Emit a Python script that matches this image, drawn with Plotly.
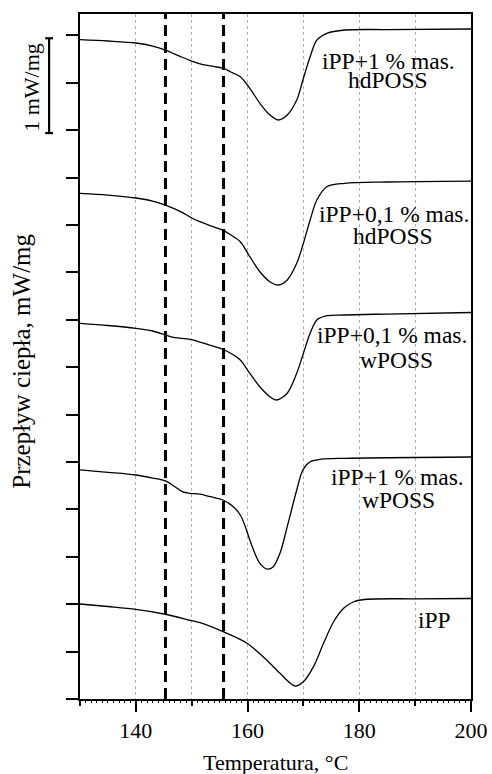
import plotly.graph_objects as go

# DSC melting curves (heat flow, mW/mg, curves shifted vertically)
T_hd1 = [130, 135, 140, 143, 145.3, 148, 150, 152, 154, 155.7, 157, 158.7, 160.4, 162.2, 164,
         165.5, 167.1, 168.8, 169.9, 171.2, 172.4, 174.2, 177.4, 185, 200]
Q_hd1 = [6.955, 6.941, 6.920, 6.888, 6.846, 6.777, 6.730, 6.693, 6.672, 6.653, 6.614, 6.564, 6.442,
         6.284, 6.160, 6.108, 6.160, 6.318, 6.530, 6.775, 6.951, 7.022, 7.057, 7.062, 7.068]

T_hd01 = [130, 135, 140, 143, 145.3, 148, 150, 151.5, 153.5, 155.6, 157, 158.7, 160.4, 162.2, 164,
          165.5, 167.1, 168.8, 169.9, 171.2, 172.4, 174.2, 177.4, 185, 200]
Q_hd01 = [5.334, 5.316, 5.285, 5.253, 5.211, 5.142, 5.074, 5.035, 4.989, 4.947, 4.895, 4.824, 4.666,
          4.507, 4.402, 4.367, 4.420, 4.596, 4.789, 5.053, 5.264, 5.404, 5.440, 5.454, 5.464]

T_w01 = [130, 135, 140, 143, 145.3, 147, 149.7, 153.2, 155.6, 157.2, 158.7, 160.4, 162.2, 164,
         165.2, 167.1, 168.8, 169.9, 171.2, 172.4, 174.2, 177.4, 185, 200]
Q_w01 = [3.963, 3.940, 3.910, 3.882, 3.840, 3.811, 3.794, 3.734, 3.687, 3.640, 3.576, 3.436, 3.294,
         3.189, 3.154, 3.225, 3.436, 3.629, 3.857, 3.998, 4.043, 4.051, 4.061, 4.077]

T_w1 = [130, 135, 140, 143, 145.3, 147, 148.4, 149.7, 151.5, 153.3, 155.6, 157.5, 158.7, 159.6,
        160.4, 161.3, 162.2, 163.5, 164.6, 165.8, 167.1, 168.8, 169.9, 171.2, 173, 177.4, 200]
Q_w1 = [2.416, 2.391, 2.363, 2.331, 2.300, 2.239, 2.184, 2.170, 2.162, 2.134, 2.099, 2.025, 1.941,
        1.818, 1.677, 1.537, 1.431, 1.371, 1.396, 1.537, 1.818, 2.205, 2.416, 2.503, 2.528, 2.539, 2.553]

T_ipp = [130, 135, 140, 145.3, 150, 151.5, 155.6, 159.9, 163.4, 165.8, 168.5, 170, 171.8, 173.6,
         175.4, 177.2, 179, 181.4, 190, 200]
Q_ipp = [1.002, 0.976, 0.946, 0.894, 0.826, 0.805, 0.710, 0.588, 0.411, 0.271, 0.137, 0.182, 0.341,
         0.588, 0.815, 0.957, 1.026, 1.052, 1.057, 1.060]

curves = [(T_hd1, Q_hd1), (T_hd01, Q_hd01), (T_w01, Q_w01), (T_w1, Q_w1), (T_ipp, Q_ipp)]

# Curve labels: (text, x, y) one entry per text line
label_lines = [
    ("iPP+1 % mas.", 185.2, 6.733), ("hdPOSS", 185.1, 6.535),
    ("iPP+0,1 % mas.", 186.3, 5.119), ("hdPOSS", 186.1, 4.884),
    ("iPP+0,1 % mas.", 185.8, 3.840), ("wPOSS", 186.6, 3.576),
    ("iPP+1 % mas.", 186.9, 2.339), ("wPOSS", 187.0, 2.099),
    ("iPP", 193.4, 0.830),
]

# Characteristic temperatures marked with dashed lines
marker_T = [145.3, 155.7]

# Scale bar: 1 mW/mg
scale_bottom = 5.97
scale_height = 1.0

x_range = [130, 200]
y_range = [0, 7.226]
y_ticks = [i * 0.5 for i in range(15)]

FONT = "Liberation Serif, Times New Roman, serif"

fig = go.Figure()
for T, Q in curves:
    fig.add_trace(go.Scatter(x=T, y=Q, mode="lines",
                             line=dict(color="black", width=1.3, shape="spline", smoothing=0.9),
                             showlegend=False, hoverinfo="skip"))

# fine minor ticks along the temperature axis
fig.add_trace(go.Scatter(x=[130, 200], y=[None, None], xaxis="x2", showlegend=False,
                         hoverinfo="skip"))

for t in marker_T:
    fig.add_shape(type="line", x0=t, x1=t, y0=0, y1=1, xref="x", yref="paper",
                  line=dict(color="black", width=3, dash="11px,6px"))

# scale bar
fig.add_shape(type="line", xref="paper", yref="y", x0=-0.079, x1=-0.079,
              y0=scale_bottom, y1=scale_bottom + scale_height,
              line=dict(color="black", width=2.2))
for yy in (scale_bottom, scale_bottom + scale_height):
    fig.add_shape(type="line", xref="paper", yref="y", x0=-0.089, x1=-0.069, y0=yy, y1=yy,
                  line=dict(color="black", width=2.2))

for text, x, y in label_lines:
    fig.add_annotation(x=x, y=y, xref="x", yref="y", text=text, showarrow=False,
                       xanchor="center", yanchor="middle",
                       font=dict(family=FONT, size=23.5, color="black"))

fig.add_annotation(x=-0.126, y=0.8934, xref="paper", yref="paper", text="1 mW/mg",
                   textangle=-90, showarrow=False, xanchor="center", yanchor="middle",
                   font=dict(family=FONT, size=22, color="black"))
fig.add_annotation(x=-0.1516, y=0.4934, xref="paper", yref="paper",
                   text="Przepływ ciepła, mW/mg", textangle=-90, showarrow=False,
                   xanchor="center", yanchor="middle",
                   font=dict(family=FONT, size=25, color="black"))
fig.add_annotation(x=0.5, y=-0.092, xref="paper", yref="paper", text="Temperatura, °C",
                   showarrow=False, xanchor="center", yanchor="middle",
                   font=dict(family=FONT, size=22, color="black"))

fig.update_layout(
    template="none",
    width=492, height=774,
    margin=dict(l=80, r=21, t=14, b=75, autoexpand=False),
    paper_bgcolor="white", plot_bgcolor="white",
    font=dict(family=FONT, size=22, color="black"),
    xaxis=dict(range=x_range, tick0=140, dtick=20, ticks="outside", ticklen=11, tickwidth=2,
               tickcolor="black", showline=True, linewidth=2, linecolor="black", mirror=True,
               showgrid=True, gridcolor="#b0b0b0", gridwidth=1, griddash="dot",
               ticklabelstandoff=0, zeroline=False, automargin=False,
               minor=dict(tick0=130, dtick=10, ticks="outside", ticklen=5, tickwidth=2,
                          tickcolor="black", showgrid=True, gridcolor="#b0b0b0",
                          gridwidth=1, griddash="dot")),
    xaxis2=dict(range=x_range, overlaying="x", anchor="y", side="bottom", dtick=1,
                ticks="outside", ticklen=3, tickwidth=1, tickcolor="black",
                showticklabels=False, showgrid=False, zeroline=False, showline=False,
                automargin=False),
    yaxis=dict(range=y_range, tickvals=y_ticks, showticklabels=False, ticks="outside",
               ticklen=12, tickwidth=2, tickcolor="black", showline=True, linewidth=2,
               linecolor="black", mirror=True, showgrid=False, zeroline=False,
               automargin=False),
)

fig.write_html("out.html")
